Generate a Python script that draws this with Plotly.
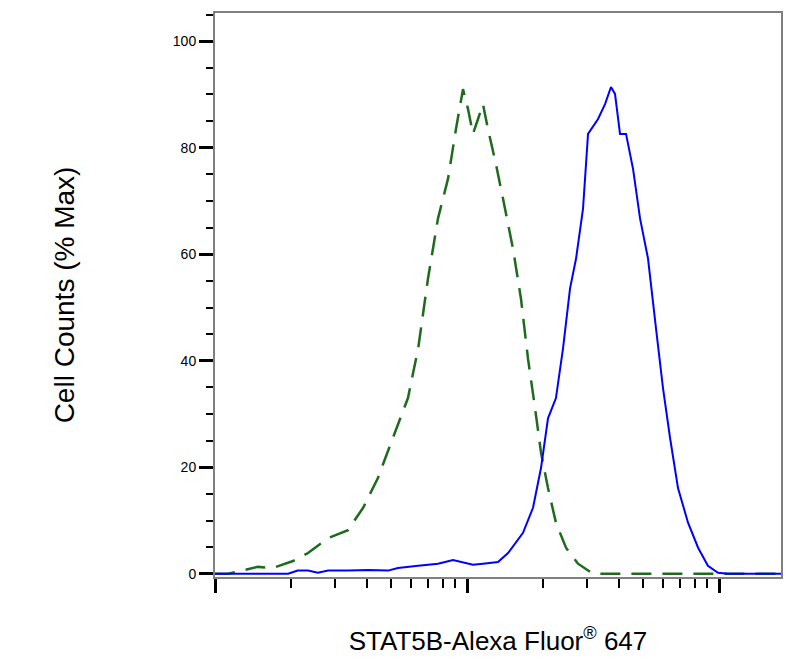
import plotly.graph_objects as go

# blue (stained) histogram: x in fluorescence units, y in % max
blue_x = [100, 148, 195, 213, 234, 256, 281, 337, 405, 486, 532, 640, 767, 880, 964, 1056, 1157, 1327, 1455, 1668, 1828, 1967, 2096, 2254, 2404, 2564, 2709, 2886, 3022, 3311, 3530, 3727, 3866, 4048, 4276, 4560, 4862, 5227, 5623, 5996, 6394, 6875, 7534, 8260, 9036, 9908, 10860, 17620]
blue_y = [0, 0, 0, 0.6, 0.6, 0.2, 0.6, 0.6, 0.7, 0.6, 1.1, 1.5, 1.9, 2.6, 2.2, 1.7, 1.9, 2.2, 3.9, 7.7, 12.4, 19.9, 29.2, 33.0, 42.3, 53.6, 59.2, 68.5, 82.6, 85.4, 88.2, 91.4, 90.1, 82.6, 82.6, 76.0, 66.7, 59.2, 46.1, 34.8, 25.5, 16.1, 9.6, 4.9, 1.5, 0.2, 0, 0]
# green dashed (isotype control) histogram
green_x = [100, 113, 148, 170, 204, 234, 281, 337, 387, 443, 508, 583, 640, 700, 767, 841, 904, 964, 1009, 1056, 1106, 1157, 1211, 1303, 1390, 1523, 1637, 1746, 1862, 1967, 2096, 2254, 2471, 2757, 3162, 3630, 17620]
green_y = [0, 0, 1.3, 1.1, 2.4, 3.9, 6.7, 8.2, 12.4, 18.0, 25.5, 33.0, 42.3, 55.4, 66.7, 74.2, 83.5, 91.0, 87.3, 82.6, 85.4, 88.2, 83.5, 76.9, 70.4, 61.0, 51.7, 40.4, 31.1, 22.7, 16.1, 9.6, 4.9, 1.9, 0, 0, 0]

fig = go.Figure()
fig.add_trace(go.Scatter(x=green_x, y=green_y, mode="lines",
                         line=dict(color="#1e6b1e", width=2.5, dash="20px,11px")))
fig.add_trace(go.Scatter(x=blue_x, y=blue_y, mode="lines",
                         line=dict(color="#0000ff", width=2)))

fig.update_layout(
    width=796, height=665, showlegend=False,
    paper_bgcolor="white", plot_bgcolor="white",
    margin=dict(l=207, r=23, t=5, b=96, autoexpand=False),
    font=dict(family="Arial, Liberation Sans", color="black"),
)
fig.update_xaxes(type="log", range=[2, 4.246], showgrid=False, zeroline=False, automargin=False,
                 showline=True, linecolor="#808080", linewidth=2, mirror=True,
                 tickvals=[100, 1000, 10000], showticklabels=False,
                 ticks="outside", ticklen=14, tickwidth=3, tickcolor="black",
                 minor=dict(ticks="outside", ticklen=9, tickwidth=1.5, tickcolor="black",
                            tickvals=[v * d for d in (100, 1000) for v in range(2, 10)] + [20000]),
                 title=dict(text="STAT5B-Alexa Fluor<sup>®</sup> 647", font=dict(size=26), standoff=40))
fig.update_yaxes(range=[-0.6, 105.3], showgrid=False, zeroline=False, automargin=False,
                 showline=True, linecolor="#808080", linewidth=2, mirror=True,
                 tickvals=[0, 20, 40, 60, 80, 100], ticks="outside", ticklen=14, tickwidth=2.5,
                 tickcolor="black", tickfont=dict(size=14),
                 minor=dict(ticks="outside", ticklen=7, tickwidth=1.5, tickcolor="black", dtick=5),
                 title=dict(text="Cell Counts (% Max)", font=dict(size=28), standoff=90))
fig.write_html("out.html")
